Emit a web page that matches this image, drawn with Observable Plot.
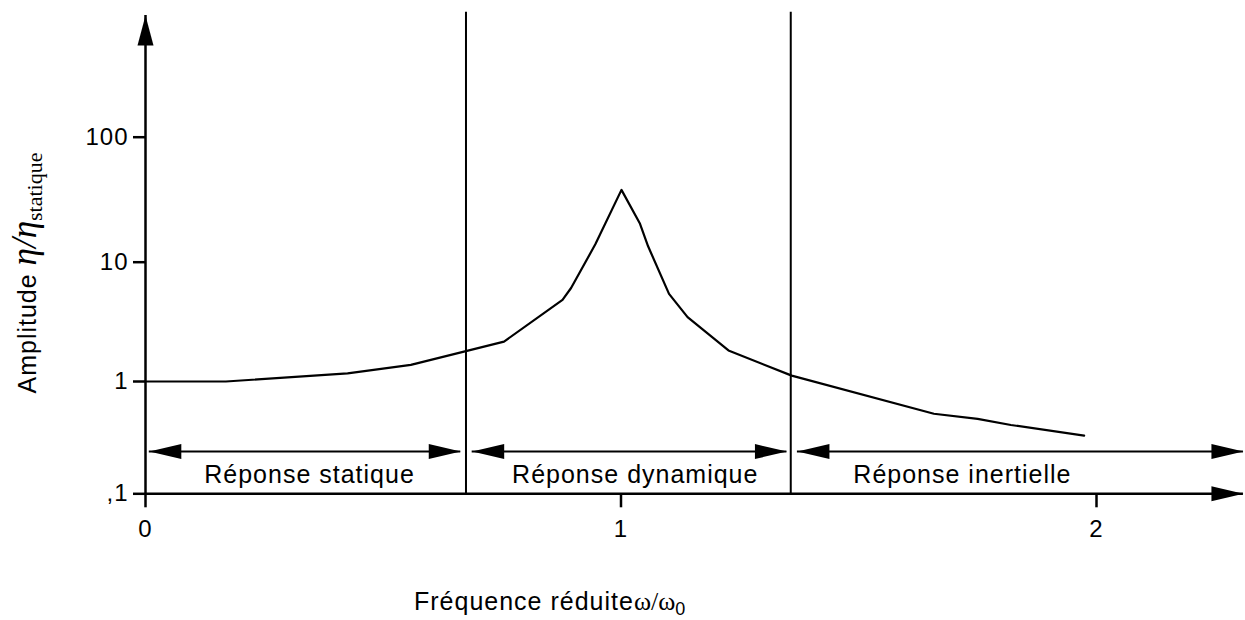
<!DOCTYPE html>
<html>
<head>
<meta charset="utf-8">
<script src="https://cdn.jsdelivr.net/npm/d3@7"></script>
<script src="https://cdn.jsdelivr.net/npm/@observablehq/plot@0.6"></script>
<style>
  html, body { margin: 0; padding: 0; background: #fff; }
  #chart svg text { letter-spacing: 1px; }
</style>
</head>
<body>
<div id="chart"></div>
<script>
// ---- data ----
const freq      = [0, 0.169, 0.425, 0.558, 0.754, 0.877, 0.895, 0.946, 1.001, 1.040, 1.057, 1.101, 1.140, 1.226, 1.359, 1.658, 1.75, 1.82, 1.974];
const amplitude = [1, 1, 1.17, 1.38, 2.16, 4.84, 6.08, 13.9, 37.9, 20.3, 13.4, 5.43, 3.46, 1.82, 1.12, 0.516, 0.465, 0.41, 0.33];

const boundaries   = [0.674, 1.357];
const regionNames  = ["Réponse statique", "Réponse dynamique", "Réponse inertielle"];
const regionStart  = [0.008, 0.687, 1.371];
const regionEnd    = [0.663, 1.349, 2.309];
const regionCenter = [0.345, 1.03, 1.718];

const xTicks = [0, 1, 2];
const xTickLabels = ["0", "1", "2"];
const yTicks = [0.1, 1, 10, 100];
const yTickLabels = [",1", "1", "10", "100"];

const xAxisEnd = 2.309;   // end of the x-axis arrow (data units)
const yAxisEnd = 940;     // tip of the y-axis arrow (data units)
const yTop = 1000;        // top of the boundary lines
const yBottom = 0.1;
const arrowLevel = 0.238; // level of the double arrows
const labelLevel = 0.126; // baseline of the region labels

const xLabel = "Fréquence réduiteω/ω0";
const yLabel = "Amplitude η/ηstatique";

// ---- derived tables ----
const curve = freq.map((f, i) => ({f, a: amplitude[i]}));
const regions = regionNames.map((name, i) => ({name, start: regionStart[i], end: regionEnd[i], center: regionCenter[i]}));
const rightHeads = [...regions.map(r => ({x: r.end, y: arrowLevel})), {x: xAxisEnd, y: yBottom}];
const leftHeads = regions.map(r => ({x: r.start, y: arrowLevel}));
const upHeads = [{x: 0, y: yAxisEnd}];

// filled narrow triangles, tip at the origin
const headRight = {draw(c) { c.moveTo(0, 0); c.lineTo(-32, -7.5); c.lineTo(-32, 7.5); c.closePath(); }};
const headLeft  = {draw(c) { c.moveTo(0, 0); c.lineTo(32, -7.5); c.lineTo(32, 7.5); c.closePath(); }};
const headUp    = {draw(c) { c.moveTo(0, 0); c.lineTo(-8, 30); c.lineTo(8, 30); c.closePath(); }};

const chart = Plot.plot({
  width: 1245,
  height: 620,
  marginLeft: 145,
  marginRight: 149,
  marginTop: 11.7,
  marginBottom: 126.7,
  style: {fontFamily: "'Liberation Sans', Arial, sans-serif", fontSize: "24px", color: "#000", background: "#fff"},
  x: {domain: [0, 2], range: [145, 1096]},
  y: {type: "log", domain: [0.1, 1, 10, 100, 1000], range: [493.3, 381, 261.7, 136.7, 11.7]},
  marks: [
    // boundary lines
    Plot.ruleX(boundaries, {y1: yBottom, y2: yTop, stroke: "#000", strokeWidth: 2}),
    // double arrows
    Plot.ruleY(regions, {x1: "start", x2: "end", y: () => arrowLevel, stroke: "#000", strokeWidth: 2}),
    // axis lines
    Plot.ruleY([yBottom], {x1: 0, x2: xAxisEnd, stroke: "#000", strokeWidth: 2.5}),
    Plot.ruleX([0], {y1: yBottom, y2: yAxisEnd, stroke: "#000", strokeWidth: 2.5}),
    // arrow heads
    Plot.dot(rightHeads, {x: "x", y: "y", symbol: headRight, fill: "#000", stroke: null}),
    Plot.dot(leftHeads, {x: "x", y: "y", symbol: headLeft, fill: "#000", stroke: null}),
    Plot.dot(upHeads, {x: "x", y: "y", symbol: headUp, fill: "#000", stroke: null}),
    // axes ticks & labels
    Plot.axisX({ticks: xTicks, tickFormat: d => xTickLabels[xTicks.indexOf(d)], tickSize: 14, tickPadding: 12, strokeWidth: 2.5, fontSize: 24, label: null}),
    Plot.axisY({ticks: yTicks, tickFormat: d => yTickLabels[yTicks.indexOf(d)], tickSize: 12, tickPadding: 5, strokeWidth: 2.5, fontSize: 24, label: null}),
    // response curve
    Plot.line(curve, {x: "f", y: "a", stroke: "#000", strokeWidth: 2.2}),
    // region labels
    Plot.text(regions, {x: "center", y: () => labelLevel, text: "name", lineAnchor: "bottom", fontSize: 25, fill: "#000"}),
    // axis titles
    Plot.text([xLabel], {frameAnchor: "bottom", textAnchor: "start", lineAnchor: "bottom", dx: -207, dy: 115.7, fontSize: 25, fill: "#000"}),
    Plot.text([yLabel], {frameAnchor: "left", textAnchor: "middle", rotate: -90, dx: -118, dy: 20, fontSize: 25, fill: "#000"})
  ]
});

document.getElementById("chart").appendChild(chart);

// rich text for the axis titles (serif Greek letters, subscripts)
const NS = "http://www.w3.org/2000/svg";
function richify(el, parts) {
  el.textContent = "";
  for (const p of parts) {
    const t = document.createElementNS(NS, "tspan");
    t.textContent = p.text;
    for (const [k, v] of Object.entries(p.attrs || {})) t.setAttribute(k, v);
    el.appendChild(t);
  }
}
for (const el of chart.querySelectorAll("text")) {
  if (el.textContent === yLabel) {
    richify(el, [
      {text: "Amplitude "},
      {text: "η/η", attrs: {"font-family": "'Liberation Serif', 'DejaVu Serif', serif", "font-style": "italic", "font-size": 35, "letter-spacing": 0}},
      {text: "statique", attrs: {"font-family": "'Liberation Serif', 'DejaVu Serif', serif", "font-size": 22, "dy": 6, "letter-spacing": 0}}
    ]);
  } else if (el.textContent === xLabel) {
    richify(el, [
      {text: "Fréquence réduite"},
      {text: "ω/ω", attrs: {"font-family": "'Liberation Serif', 'DejaVu Serif', serif", "font-size": 26, "letter-spacing": 0}},
      {text: "0", attrs: {"font-size": 18, "dy": 5}}
    ]);
  }
}
</script>
</body>
</html>
